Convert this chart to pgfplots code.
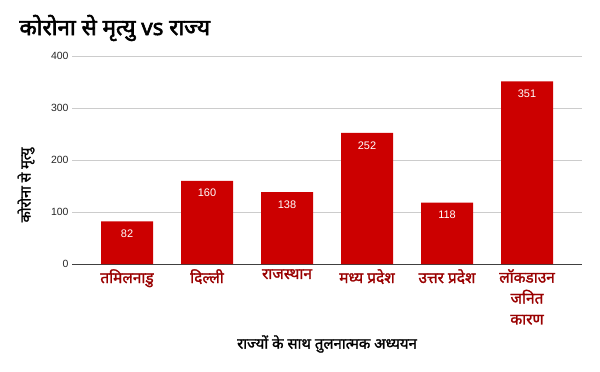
\documentclass[border=0pt]{standalone}
\usepackage{fontspec}
\setmainfont{Liberation Sans}
\newfontfamily\dev[Script=Devanagari]{Noto Sans}
\newfontfamily\devb[Script=Devanagari, FakeBold=2.5]{Noto Sans}
\newfontfamily\devm[Script=Devanagari, FakeBold=1.5]{Noto Sans}
\usepackage{pgfplots}
\pgfplotsset{compat=1.18}
\definecolor{barred}{HTML}{CC0000}
\definecolor{labred}{HTML}{990000}
\definecolor{gridgray}{HTML}{CCCCCC}
\begin{document}
\begin{tikzpicture}[x=1bp,y=1bp]
\path[use as bounding box] (0,0) rectangle (600,371);
\begin{axis}[
  at={(72bp,107bp)}, anchor=south west,
  scale only axis, width=510bp, height=208bp,
  ymin=0, ymax=400, ytick={0,100,200,300,400},
  xmin=-0.6875, xmax=5.6875,
  xtick={0,1,2,3,4,5},
  xticklabels={तमिलनाडु,दिल्ली,राजस्थान,मध्य प्रदेश,उत्तर प्रदेश,{लॉकडाउन\\जनित\\कारण}},
  xticklabel style={font=\devm\fontsize{15.5}{21}\selectfont, text=labred, align=center, yshift=-4bp, inner sep=1bp},
  yticklabel style={font=\fontsize{10.5}{12}\selectfont, text=black!85},
  /pgf/number format/assume math mode=true,
  axis x line*=bottom, axis y line*=left,
  y axis line style={draw=none},
  x axis line style={draw=black!75, -},
  major tick length=0pt,
  ymajorgrids, grid style={gridgray, line width=0.6pt},
  ybar, bar width=52bp,
  nodes near coords,
  nodes near coords style={font=\fontsize{11}{12}\selectfont, text=white, anchor=north, yshift=-5bp},
  clip=false,
]
\addplot[fill=barred, draw=none] coordinates {(0,82) (1,160) (2,138) (3,252) (4,118) (5,351)};
\end{axis}
\node[anchor=west, font=\devb\fontsize{22.5}{24}\selectfont] at (16,343) {कोरोना से मृत्यु vs राज्य};
\node[rotate=90, font=\devm\fontsize{14.5}{16}\selectfont] at (26,186) {कोरोना से मृत्यु};
\node[font=\devm\fontsize{15}{17}\selectfont] at (327,27) {राज्यों के साथ तुलनात्मक अध्ययन};
\end{tikzpicture}
\end{document}
